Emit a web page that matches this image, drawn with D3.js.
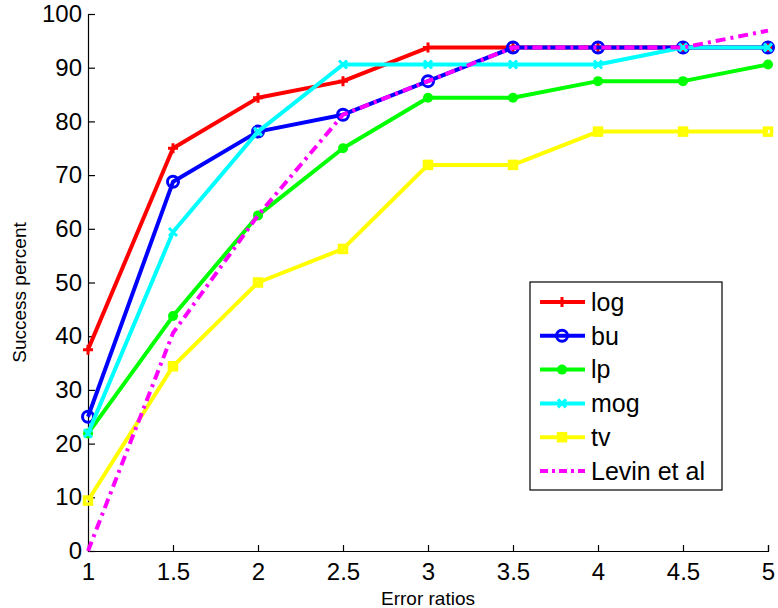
<!DOCTYPE html>
<html>
<head>
<meta charset="utf-8">
<script src="https://cdn.jsdelivr.net/npm/d3@7"></script>
<style>
  body { margin: 0; background: #fff; }
  text { font-family: "Liberation Sans", Arial, sans-serif; fill: #000; }
</style>
</head>
<body>
<div id="chart"></div>
<script>
// error ratio thresholds on the x axis
const errorRatios = [1, 1.5, 2, 2.5, 3, 3.5, 4, 4.5, 5];

// success percent per method
const logVals   = [37.5, 75, 84.4, 87.5, 93.75, 93.75, 93.75, 93.75, 93.75];
const buVals    = [25, 68.75, 78.1, 81.25, 87.5, 93.75, 93.75, 93.75, 93.75];
const lpVals    = [21.9, 43.75, 62.5, 75, 84.4, 84.4, 87.5, 87.5, 90.6];
const mogVals   = [21.9, 59.4, 78.1, 90.6, 90.6, 90.6, 90.6, 93.75, 93.75];
const tvVals    = [9.4, 34.4, 50, 56.25, 71.9, 71.9, 78.1, 78.1, 78.1];
const levinVals = [0, 40.6, 62.5, 81.25, 87.5, 93.75, 93.75, 93.75, 96.9];

const seriesNames = ["log", "bu", "lp", "mog", "tv", "Levin et al"];
const xTicks = [1, 1.5, 2, 2.5, 3, 3.5, 4, 4.5, 5];
const yTicks = [0, 10, 20, 30, 40, 50, 60, 70, 80, 90, 100];

const width = 778;
const height = 608;
const margin = {top: 14, right: 10, bottom: 57, left: 88};

const series = [
    {name: seriesNames[0], values: logVals,   color: "#ff0000", marker: "plus"},
    {name: seriesNames[1], values: buVals,    color: "#0000ff", marker: "circle"},
    {name: seriesNames[2], values: lpVals,    color: "#00ff00", marker: "dot"},
    {name: seriesNames[3], values: mogVals,   color: "#00ffff", marker: "cross"},
    {name: seriesNames[4], values: tvVals,    color: "#ffff00", marker: "square"},
    {name: seriesNames[5], values: levinVals, color: "#ff00ff", marker: null, dash: "10,5,3,5"}
];

const x = d3.scaleLinear().domain([1, 5]).range([margin.left, width - margin.right]);
const y = d3.scaleLinear().domain([0, 100]).range([height - margin.bottom, margin.top]);

const svg = d3.select("#chart").append("svg")
    .attr("width", width)
    .attr("height", height);

// axes, ticks point inward like matlab
const xAxis = d3.axisBottom(x).tickValues(xTicks).tickSize(-6).tickPadding(12).tickFormat(d3.format("~g"));
const yAxis = d3.axisLeft(y).tickValues(yTicks).tickSize(-7).tickPadding(6);

const gx = svg.append("g")
    .attr("transform", `translate(0,${y(0)})`)
    .call(xAxis);
const gy = svg.append("g")
    .attr("transform", `translate(${x(1)},0)`)
    .call(yAxis);

[gx, gy].forEach(g => {
    g.select(".domain").attr("stroke", "#000").attr("stroke-width", 1.2);
    g.selectAll(".tick line").attr("stroke", "#000").attr("stroke-width", 1.2);
    g.selectAll(".tick text")
        .style("font-family", "'Liberation Sans', Arial, sans-serif")
        .style("font-size", "24px")
        .attr("fill", "#000");
});
gx.selectAll(".tick text").attr("dy", "0.71em");

// axis labels
svg.append("text")
    .attr("x", (x(1) + x(5)) / 2)
    .attr("y", 605)
    .attr("text-anchor", "middle")
    .style("font-size", "19px")
    .text("Error ratios");

svg.append("text")
    .attr("transform", `translate(26,${(y(0) + y(100)) / 2 + 10}) rotate(-90)`)
    .attr("text-anchor", "middle")
    .style("font-size", "19px")
    .text("Success percent");

// marker drawing helper
function drawMarker(g, type, color) {
    if (type === "plus") {
        g.append("path").attr("d", "M-5,0H5M0,-5V5")
            .attr("stroke", color).attr("stroke-width", 3).attr("fill", "none");
    } else if (type === "circle") {
        g.append("circle").attr("r", 5.5)
            .attr("stroke", color).attr("stroke-width", 3).attr("fill", "none");
    } else if (type === "dot") {
        g.append("circle").attr("r", 5).attr("fill", color);
    } else if (type === "cross") {
        g.append("path").attr("d", "M-4,-4L4,4M-4,4L4,-4")
            .attr("stroke", color).attr("stroke-width", 3).attr("fill", "none");
    } else if (type === "square") {
        g.append("rect").attr("x", -3.5).attr("y", -3.5).attr("width", 7).attr("height", 7)
            .attr("stroke", color).attr("stroke-width", 3.5).attr("fill", "none");
    }
}

const line = d3.line()
    .x((d, i) => x(errorRatios[i]))
    .y(d => y(d));

const plot = svg.append("g");

series.forEach(s => {
    const g = plot.append("g");
    g.append("path")
        .datum(s.values)
        .attr("d", line)
        .attr("fill", "none")
        .attr("stroke", s.color)
        .attr("stroke-width", 4)
        .attr("stroke-linejoin", "round")
        .attr("stroke-dasharray", s.dash || null);
    if (s.marker) {
        s.values.forEach((v, i) => {
            const m = g.append("g").attr("transform", `translate(${x(errorRatios[i])},${y(v)})`);
            drawMarker(m, s.marker, s.color);
        });
    }
});

// legend
const legend = svg.append("g").attr("transform", "translate(530,282)");
legend.append("rect")
    .attr("width", 192)
    .attr("height", 208)
    .attr("fill", "#fff")
    .attr("stroke", "#000")
    .attr("stroke-width", 1.2);

series.forEach((s, i) => {
    const row = legend.append("g").attr("transform", `translate(0,${20 + i * 33.8})`);
    row.append("line")
        .attr("x1", 10).attr("x2", 55)
        .attr("stroke", s.color)
        .attr("stroke-width", 4)
        .attr("stroke-dasharray", s.dash ? "8,4,3,4" : null);
    if (s.marker) {
        const m = row.append("g").attr("transform", "translate(32,0)");
        drawMarker(m, s.marker, s.color);
    }
    row.append("text")
        .attr("x", 61)
        .attr("dy", "0.35em")
        .style("font-size", "25px")
        .text(s.name);
});
</script>
</body>
</html>
